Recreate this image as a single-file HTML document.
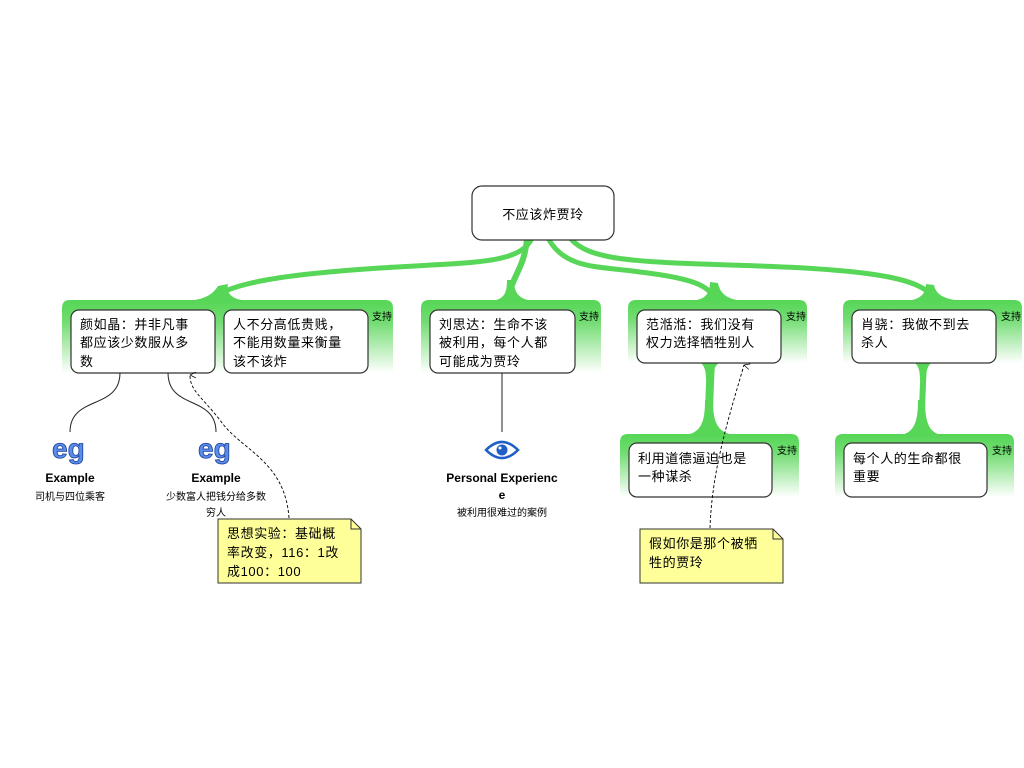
<!DOCTYPE html>
<html><head><meta charset="utf-8">
<style>
html,body{margin:0;padding:0;background:#fff;}
svg{display:block;font-family:"Liberation Sans","Noto Sans CJK SC",sans-serif;}
.t{font-size:13px;fill:#000;letter-spacing:0.6px;}
.s{font-size:10px;fill:#000;}
.b{font-size:12px;font-weight:bold;fill:#000;}
.n{fill:#fff;stroke:#333;stroke-width:1.2;}
</style></head>
<body>
<svg width="1024" height="768" viewBox="0 0 1024 768">
<defs>
<linearGradient id="g" x1="0" y1="0" x2="0" y2="1">
<stop offset="0" stop-color="#55d655"/><stop offset="0.3" stop-color="#72dc72"/><stop offset="1" stop-color="#ffffff"/>
</linearGradient>
<marker id="ar" viewBox="0 0 10 10" refX="5" refY="1" markerWidth="8" markerHeight="8" orient="auto-start-reverse">
<path d="M1,9 L5,1 L9,9" fill="none" stroke="#000" stroke-width="1"/>
</marker>
</defs>

<!-- green branches -->
<g fill="none" stroke="#58d658" stroke-linecap="round">
<path d="M532,238 C520,265 470,262 380,268 C290,274 230,282 210,300" stroke-width="5"/>
<path d="M527,238 C525,270 508,280 510,300" stroke-width="6"/>
<path d="M548,238 C565,270 600,266 640,272 C690,278 710,285 715,300" stroke-width="5"/>
<path d="M570,238 C590,262 640,262 760,266 C880,270 925,280 935,300" stroke-width="5"/>
<path d="M711,362 C709,400 709,420 708,436" stroke-width="8"/>
<path d="M924,362 C922,400 922,420 921,436" stroke-width="6"/>
</g>
<g fill="#58d658">
<path d="M185,301 C205,300 213,294 218,286 L228,284 C226,294 232,300 250,301 Z"/>
<path d="M490,301 C505,300 507,292 507,280 L514,280 C514,292 518,300 535,301 Z"/>
<path d="M690,301 C705,300 710,294 710,282 L718,283 C720,294 728,300 745,301 Z"/>
<path d="M905,301 C920,300 926,294 926,284 L934,285 C936,295 945,300 965,301 Z"/>
<path d="M685,435 C702,433 705,420 705,400 L713,400 C713,420 716,433 735,435 Z"/>
<path d="M900,435 C915,433 918,420 918,400 L925,400 C925,420 928,433 942,435 Z"/>
<path d="M700,362 C705,366 706,372 706,380 L713,380 C713,372 714,366 720,362 Z"/>
<path d="M914,362 C919,366 920,372 920,380 L926,380 C926,372 927,366 932,362 Z"/>
</g>

<!-- panels -->
<g fill="url(#g)">
<path d="M62,373 V308 Q62,300 70,300 H385 Q393,300 393,308 V373 Z"/>
<path d="M421,373 V308 Q421,300 429,300 H593 Q601,300 601,308 V373 Z"/>
<path d="M628,363 V308 Q628,300 636,300 H799 Q807,300 807,308 V363 Z"/>
<path d="M843,363 V308 Q843,300 851,300 H1014 Q1022,300 1022,308 V363 Z"/>
<path d="M620,497 V442 Q620,434 628,434 H791 Q799,434 799,442 V497 Z"/>
<path d="M835,497 V442 Q835,434 843,434 H1006 Q1014,434 1014,442 V497 Z"/>
</g>
<text class="s" x="372" y="320">支持</text>
<text class="s" x="579" y="320">支持</text>
<text class="s" x="786" y="320">支持</text>
<text class="s" x="1001" y="320">支持</text>
<text class="s" x="777" y="454">支持</text>
<text class="s" x="992" y="454">支持</text>

<!-- root -->
<rect class="n" x="472" y="186" width="142" height="54" rx="10"/>
<text class="t" x="543" y="219" text-anchor="middle">不应该炸贾玲</text>

<!-- nodes -->
<rect class="n" x="71" y="310" width="144" height="63" rx="8"/>
<text class="t" x="80" y="329">颜如晶：并非凡事</text>
<text class="t" x="80" y="347">都应该少数服从多</text>
<text class="t" x="80" y="366">数</text>

<rect class="n" x="224" y="310" width="144" height="63" rx="8"/>
<text class="t" x="233" y="329">人不分高低贵贱，</text>
<text class="t" x="233" y="347">不能用数量来衡量</text>
<text class="t" x="233" y="366">该不该炸</text>

<rect class="n" x="430" y="310" width="145" height="63" rx="8"/>
<text class="t" x="439" y="329">刘思达：生命不该</text>
<text class="t" x="439" y="347">被利用，每个人都</text>
<text class="t" x="439" y="366">可能成为贾玲</text>

<rect class="n" x="637" y="310" width="144" height="53" rx="8"/>
<text class="t" x="646" y="329">范湉湉：我们没有</text>
<text class="t" x="646" y="347">权力选择牺牲别人</text>

<rect class="n" x="852" y="310" width="144" height="53" rx="8"/>
<text class="t" x="861" y="329">肖骁：我做不到去</text>
<text class="t" x="861" y="347">杀人</text>

<rect class="n" x="629" y="443" width="143" height="54" rx="8"/>
<text class="t" x="638" y="463">利用道德逼迫也是</text>
<text class="t" x="638" y="481">一种谋杀</text>

<rect class="n" x="844" y="443" width="143" height="54" rx="8"/>
<text class="t" x="853" y="463">每个人的生命都很</text>
<text class="t" x="853" y="481">重要</text>

<!-- child connectors -->
<g fill="none" stroke="#222" stroke-width="1">
<path d="M120,373 C120,410 70,395 70,432"/>
<path d="M168,373 C168,410 216,395 216,432"/>
<path d="M502,373 V432"/>
</g>

<!-- eg icons -->
<g font-family="Liberation Sans, sans-serif" font-weight="bold" font-size="28" fill="#5a8de8" stroke="#1a3f9a" stroke-width="0.8">
<text x="52" y="458">eg</text>
<text x="198" y="458">eg</text>
</g>
<text class="b" x="70" y="482" text-anchor="middle">Example</text>
<text class="s" x="70" y="500" text-anchor="middle">司机与四位乘客</text>
<text class="b" x="216" y="482" text-anchor="middle">Example</text>
<text class="s" x="216" y="500" text-anchor="middle">少数富人把钱分给多数</text>
<text class="s" x="216" y="516" text-anchor="middle">穷人</text>

<!-- eye icon -->
<path d="M486,450 Q502,434 518,450 Q502,466 486,450 Z" fill="#fff" stroke="#1f5fc8" stroke-width="2.5"/>
<circle cx="502" cy="450" r="5.5" fill="#1f5fc8"/>
<circle cx="500" cy="448" r="1.5" fill="#fff"/>
<text class="b" x="502" y="482" text-anchor="middle">Personal Experienc</text>
<text class="b" x="502" y="499" text-anchor="middle">e</text>
<text class="s" x="502" y="516" text-anchor="middle">被利用很难过的案例</text>

<!-- notes -->
<path d="M218,519 H351 L361,529 V583 H218 Z" fill="#ffff99" stroke="#333" stroke-width="1"/>
<path d="M351,519 V529 H361" fill="none" stroke="#333" stroke-width="1"/>
<text class="t" x="227" y="538">思想实验：基础概</text>
<text class="t" x="227" y="557">率改变，116：1改</text>
<text class="t" x="227" y="576">成100：100</text>

<path d="M640,529 H773 L783,539 V583 H640 Z" fill="#ffff99" stroke="#333" stroke-width="1"/>
<path d="M773,529 V539 H783" fill="none" stroke="#333" stroke-width="1"/>
<text class="t" x="649" y="548">假如你是那个被牺</text>
<text class="t" x="649" y="567">牲的贾玲</text>

<!-- dashed note connectors -->
<g fill="none" stroke="#000" stroke-width="0.9" stroke-dasharray="3,2">
<path d="M289,518 C285,460 240,450 220,420 C200,395 190,390 190,375" marker-end="url(#ar)"/>
<path d="M710,528 C712,470 728,420 744,365" marker-end="url(#ar)"/>
</g>
</svg>
</body></html>
